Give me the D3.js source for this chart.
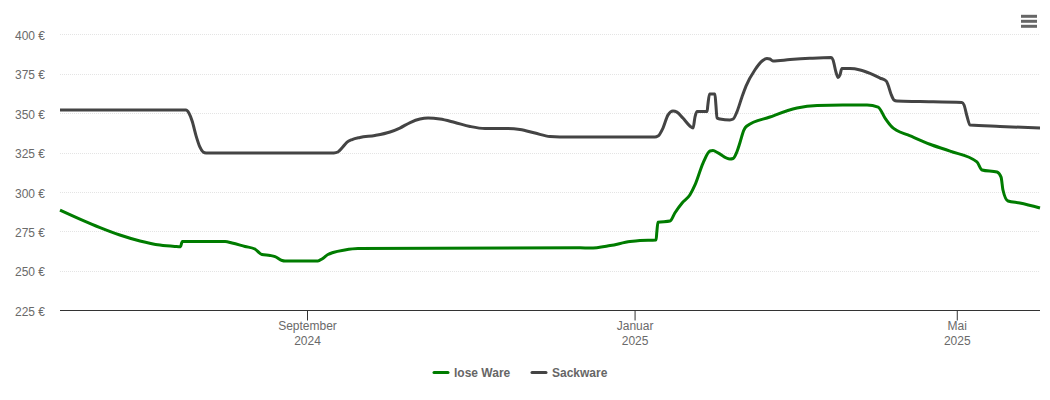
<!DOCTYPE html>
<html><head><meta charset="utf-8">
<script src="https://cdn.jsdelivr.net/npm/d3@7/dist/d3.min.js"></script>
<style>
html,body{margin:0;padding:0;background:#fff}
svg{display:block;font-family:"Liberation Sans",Arial,sans-serif}
</style></head><body><svg id="c" width="1050" height="400"></svg>
<script>
const startDate = "2024-06-01";
const endDate = "2025-06-01";
const yTicks = [225,250,275,300,325,350,375,400];
const xTickDates = ["2024-09-01","2025-01-01","2025-05-01"];
const xTickMonths = ["September","Januar","Mai"];
const xTickYears = ["2024","2025","2025"];
const seriesNames = ["lose Ware","Sackware"];
const seriesColors = ["#007c00","#444444"];

const loseDays = [0,7.4,14.9,22.3,29.8,37.2,42.8,44.9,45.3,45.6,61.5,64.1,68.9,72.6,73.7,75.2,78.2,80.1,82.7,83.8,96.1,97.6,99.8,101.7,106.1,111,193.7,197.4,204.9,212.3,216,222,222.3,222.7,227.2,229,231.7,234.6,236.5,239.5,242.1,243.2,245.1,249.5,250.7,252.1,253.2,254.7,255.7,264.4,274.5,282,291.6,300.6,304.7,307.3,309.9,311.7,315.8,324,331.5,341.5,343.4,349,350.5,351.2,353.1,357.5,365];
const loseValues = [288.7,283,277.6,272.9,269.1,266.5,265.6,265.4,267.8,268.7,268.7,267.8,265.6,264,262.4,260.5,259.9,259.2,256.7,256.4,256.4,257.7,260.5,261.8,263.4,264.3,264.8,264.6,266.2,268.7,269.4,269.7,274.8,280.9,281.7,286.8,293.2,298.2,304.6,318.5,326.1,326.4,324.9,321.1,321.4,325.5,331.2,339.4,341.8,347.7,353.4,355,355.3,355.3,354,347,341.3,339.1,336.3,330.4,326,319.2,314.1,312.8,309.6,301.4,294.4,293.2,290];

const sackDays = [0,46.9,48,49.2,50.7,52.1,53.3,54.4,102,103.5,105,106.9,108.8,111.7,117.3,122.9,126.6,130.4,134.1,137.1,141.5,147.1,152.7,158.3,165.7,171.3,176.9,182.5,186.2,221.6,222.7,224.6,226.4,228.3,229.8,232,234.6,235.8,236.5,237.2,241,241.3,241.9,243.9,244.3,244.7,245.8,249.5,250.7,252.1,254,255.5,258.8,261.5,263.3,264.4,265.5,271.9,279.3,287.2,287.9,289,289.8,290.5,291.2,294.2,298,301.7,305.4,307.7,308.4,309.5,310.6,311.7,320.3,335.9,336.7,337.8,338.9,350.1,365];
const sackValues = [352.1,352.1,350.2,345.1,335.6,328.7,325.5,324.9,324.9,325.5,328,331.8,333.4,334.7,336,338.2,340.7,344.2,346.4,347,346.4,344.2,341.7,340.4,340.4,339.8,337.5,335.3,335,335,335.6,340.7,348.9,351.5,350.8,347,342,340.7,347.7,351.2,351.2,355.3,362.3,362.3,355.3,347,346.4,345.8,346.4,350.8,360.4,367.3,377.5,383.2,384.8,384.5,383.2,384.1,384.9,385.4,383.8,376.2,372.7,374.3,378.4,378.4,377.5,375.3,372.4,370.5,368,362.3,358.5,357.8,357.5,356.9,355.3,348.3,342.6,341.7,340.7];

const parse = d3.utcParse("%Y-%m-%d");
const x = d3.scaleUtc().domain([parse(startDate), parse(endDate)]).range([60,1040]);
const y = d3.scaleLinear().domain([225,400]).range([310.5,34.5]);
const svg = d3.select("#c");
const tickFont = "'Liberation Sans',Arial,sans-serif";

// Grid
const gridY = d => Math.floor(y(d)+0.3)+0.5;
svg.append("g").selectAll("line").data(yTicks.filter(v=>v>225)).join("line")
  .attr("x1",60).attr("x2",1040).attr("y1",gridY).attr("y2",gridY)
  .attr("stroke","#e4e4e4").attr("stroke-width",1).attr("stroke-dasharray","1,1");

// Y axis
const yAxis = svg.append("g").attr("transform","translate(60,0)")
  .call(d3.axisLeft(y).tickValues(yTicks).tickSize(0).tickPadding(15).tickFormat(d=>d+" €"));
yAxis.select(".domain").remove();
yAxis.selectAll("text").attr("fill","#6a6a6a").attr("dy","0.4em").style("font-size","12px").style("font-family",tickFont);

// X axis
const xAxis = svg.append("g").attr("transform","translate(0,310.5)")
  .call(d3.axisBottom(x).tickValues(xTickDates.map(parse)).tickSize(10).tickSizeOuter(0).tickFormat(""));
xAxis.select(".domain").attr("stroke","#333").attr("stroke-width",1).attr("d","M60,0H1040");
xAxis.selectAll(".tick line").attr("stroke","#333");
xAxis.selectAll(".tick text").each(function(d,i){
  const t = d3.select(this).text(null).attr("y",0).attr("dy",null)
    .attr("fill","#6a6a6a").style("font-size","12px").style("font-family",tickFont);
  t.append("tspan").attr("x",0).attr("y",19.8).text(xTickMonths[i]);
  t.append("tspan").attr("x",0).attr("y",34.8).text(xTickYears[i]);
});

// Lines
const line = d3.line().x(d=>x(d3.utcHour.offset(parse(startDate), Math.round(d[0]*24)))).y(d=>y(d[1])).curve(d3.curveMonotoneX);
const lose = d3.zip(loseDays, loseValues);
const sack = d3.zip(sackDays, sackValues);
[lose, sack].forEach((s,i)=>{
  svg.append("path").datum(s).attr("fill","none").attr("stroke",seriesColors[i])
    .attr("stroke-width",3).attr("stroke-linejoin","round").attr("stroke-linecap","butt").attr("d",line);
});

// Legend
const legendLineX = [434,532];
const legendTextX = [454,552];
const legend = svg.append("g");
seriesNames.forEach((n,i)=>{
  legend.append("line").attr("x1",legendLineX[i]).attr("x2",legendLineX[i]+14)
    .attr("y1",372.5).attr("y2",372.5).attr("stroke",seriesColors[i]).attr("stroke-width",3).attr("stroke-linecap","round");
  legend.append("text").attr("x",legendTextX[i]).attr("y",376.8).attr("fill","#666")
    .style("font-size","12px").style("font-weight","bold").text(n);
});

// Menu icon
const menuBars = [16.3,21.3,26.3];
svg.append("g").selectAll("line").data(menuBars).join("line")
  .attr("x1",1021).attr("x2",1037).attr("y1",d=>d).attr("y2",d=>d)
  .attr("stroke","#666").attr("stroke-width",3);
</script></body></html>
